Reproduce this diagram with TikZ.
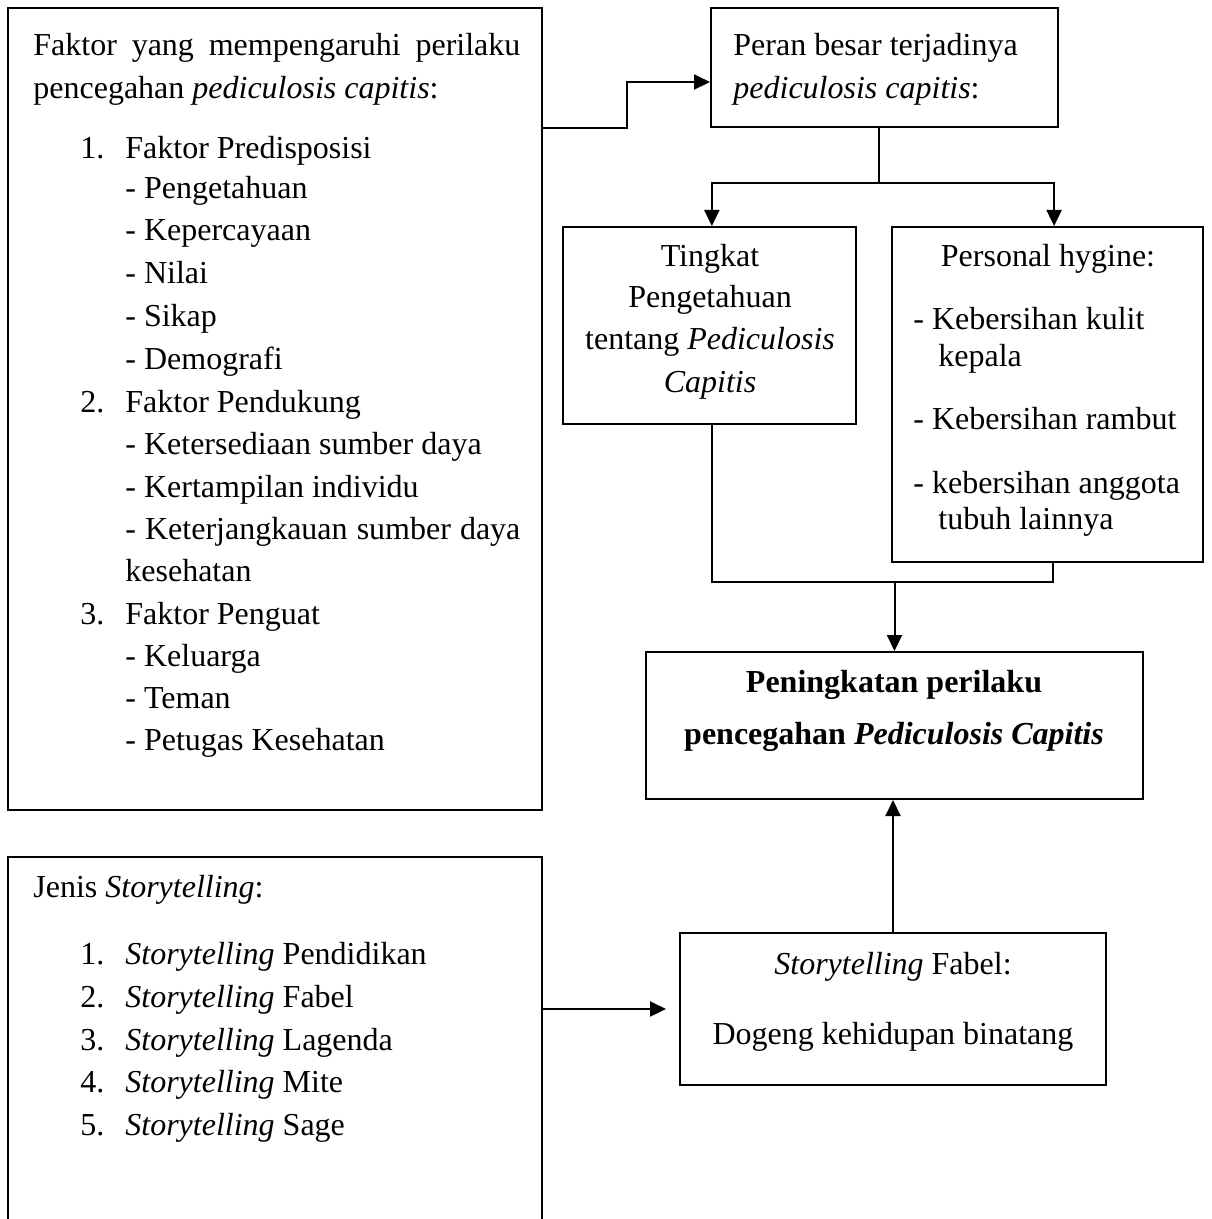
\documentclass[tikz,border=0pt]{standalone}
\usepackage{fontspec}
\setmainfont{Liberation Serif}
\usetikzlibrary{arrows.meta,fit,calc}
\tikzset{
  box/.style={draw, line width=1pt, inner sep=0pt},
  txt/.style={anchor=base west, inner sep=0pt},
  ctxt/.style={anchor=base, inner sep=0pt},
  link/.style={line width=1pt},
  arr/.style={line width=1pt, -{Triangle[length=8pt,width=7.5pt]}},
}
\begin{document}
\begin{tikzpicture}[x=0.5pt,y=-0.5pt,font=\fontsize{16}{21}\selectfont]
\useasboundingbox (0,0) rectangle (1211,1219);
\clip (0,0) rectangle (1211,1219);
% boxes
\node[box, fit={(8,8) (542,810)}] (f) {};
\node[box, fit={(8,857) (542,1240)}] (s) {};
\node[box, fit={(711,8) (1058,127)}] (p) {};
\node[box, fit={(563,227) (856,424)}] (t) {};
\node[box, fit={(892,227) (1203,562)}] (h) {};
\node[box, fit={(646,652) (1143,799)}] (n) {};
\node[box, fit={(680,933) (1106,1085)}] (fb) {};
% texts box f
\node[txt] (f1) at (33,56) {\makebox[243.5pt][s]{Faktor yang mempengaruhi perilaku}};
\node[txt] (f2) at (33,99) {pencegahan \textit{pediculosis capitis}:};
\node[txt] (n1) at (80,159) {1.};
\node[txt] (f3) at (125,159) {Faktor Predisposisi};
\node[txt] (f4) at (125,199) {- Pengetahuan};
\node[txt] (f5) at (125,241) {- Kepercayaan};
\node[txt] (f6) at (125,284) {- Nilai};
\node[txt] (f7) at (125,327) {- Sikap};
\node[txt] (f8) at (125,369) {- Demografi};
\node[txt] (n2) at (80,412) {2.};
\node[txt] (f9) at (125,412) {Faktor Pendukung};
\node[txt] (f10) at (125,454) {- Ketersediaan sumber daya};
\node[txt] (f11) at (125,497) {- Kertampilan individu};
\node[txt] (f12) at (125,539) {\makebox[197.5pt][s]{- Keterjangkauan sumber daya}};
\node[txt] (f13) at (125,581) {kesehatan};
\node[txt] (n3) at (80,624) {3.};
\node[txt] (f14) at (125,624) {Faktor Penguat};
\node[txt] (f15) at (125,666) {- Keluarga};
\node[txt] (f16) at (125,708) {- Teman};
\node[txt] (f17) at (125,750) {- Petugas Kesehatan};
% texts box s
\node[txt] (s0) at (33,897) {Jenis \textit{Storytelling}:};
\node[txt] (m1) at (80,964) {1.};
\node[txt] (s1) at (125,964) {\textit{Storytelling} Pendidikan};
\node[txt] (m2) at (80,1007) {2.};
\node[txt] (s2) at (125,1007) {\textit{Storytelling} Fabel};
\node[txt] (m3) at (80,1050) {3.};
\node[txt] (s3) at (125,1050) {\textit{Storytelling} Lagenda};
\node[txt] (m4) at (80,1092) {4.};
\node[txt] (s4) at (125,1092) {\textit{Storytelling} Mite};
\node[txt] (m5) at (80,1135) {5.};
\node[txt] (s5) at (125,1135) {\textit{Storytelling} Sage};
% texts box p
\node[txt] (p1) at (733,56) {Peran besar terjadinya};
\node[txt] (p2) at (733,99) {\textit{pediculosis capitis}:};
% texts box t
\node[ctxt] (t1) at (710,267) {Tingkat};
\node[ctxt] (t2) at (710,307) {Pengetahuan};
\node[ctxt] (t3) at (710,350) {tentang \textit{Pediculosis}};
\node[ctxt] (t4) at (710,392) {\textit{Capitis}};
% texts box h
\node[ctxt] (h0) at (1048,267) {Personal hygine:};
\node[txt] (h1) at (913,329) {- Kebersihan kulit};
\node[txt] (h2) at (938,366) {kepala};
\node[txt] (h3) at (913,429) {- Kebersihan rambut};
\node[txt] (h4) at (913,493) {- kebersihan anggota};
\node[txt] (h5) at (938,529) {tubuh lainnya};
% texts box n
\node[ctxt] (nt1) at (894,692) {\textbf{Peningkatan perilaku}};
\node[ctxt] (nt2) at (894,744) {\textbf{pencegahan \textit{Pediculosis Capitis}}};
% texts box fb
\node[ctxt] (b1) at (893,974) {\textit{Storytelling} Fabel:};
\node[ctxt] (b2) at (893,1044) {Dogeng kehidupan binatang};
% connectors
\coordinate (mid1) at ($(f.east)!0.5!(p.west)$);
\coordinate (pin) at ($(p.north west)!0.62!(p.south west)$);
\draw[arr] (f.east |- p.south) -- (mid1 |- p.south) |- (pin);
\coordinate (pb) at ($(p.south west)!0.484!(p.south east)$);
\coordinate (j1) at ($(pb)+(0,55)$);
\coordinate (tin) at ($(t.north west)!0.508!(t.north east)$);
\coordinate (hin) at ($(h.north west)!0.521!(h.north east)$);
\draw[link] (pb) -- (j1);
\draw[arr] (j1) -| (tin);
\draw[arr] (j1) -| (hin);
\coordinate (tout) at ($(t.south west)!0.508!(t.south east)$);
\coordinate (hout) at ($(h.south west)!0.518!(h.south east)$);
\coordinate (jb) at ($(n.north)+(0,-69)$);
\draw[link] (tout) |- (jb) -| (hout);
\draw[arr] (jb) -- (n.north -| jb);
\draw[arr] (fb.north) -- (fb.north |- n.south);
\draw[arr] (s.north east |- fb.west) -- ($(fb.west)+(-13,0)$);
\end{tikzpicture}
\end{document}
